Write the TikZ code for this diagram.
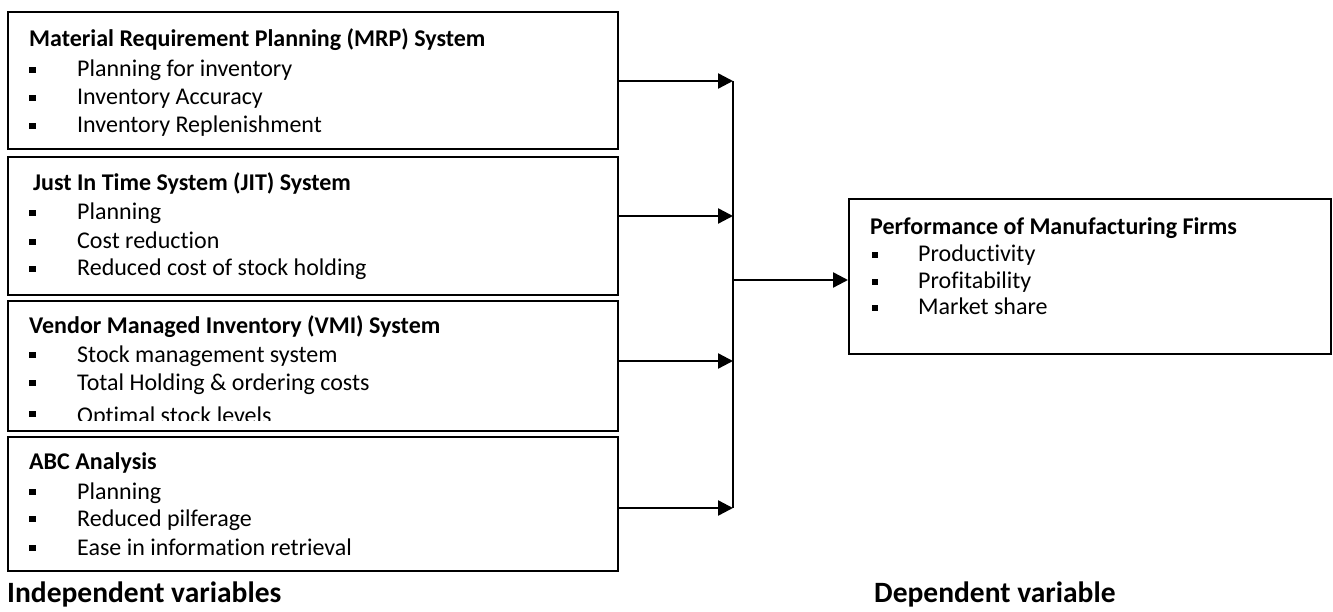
\documentclass[tikz,border=0pt]{standalone}
\usepackage{fontspec}
\setmainfont{Carlito}[Ligatures=NoCommon]
\usetikzlibrary{arrows.meta}
\tikzset{
  box/.style={draw=black, line width=1.6pt, anchor=north west, inner sep=0pt},
  ttl/.style={anchor=base west, inner sep=0pt, font=\fontsize{24}{28}\selectfont\bfseries},
  itm/.style={anchor=base west, inner sep=0pt, font=\fontsize{24}{28}\selectfont},
  bul/.style={fill=black, inner sep=0pt, minimum size=6.5pt},
  lbl/.style={anchor=base west, inner sep=0pt, font=\fontsize{29.5}{34}\selectfont\bfseries},
  arr/.style={line width=2.4pt, -{Triangle[length=15pt,width=15pt]}},
  bus/.style={line width=1.8pt}
}
\begin{document}
\begin{tikzpicture}[x=1pt,y=-1pt]
\useasboundingbox (0,0) rectangle (1333,612);
% boxes
\node[box, minimum width=610pt, minimum height=137pt] (m1) at (7,11) {};
\node[box, minimum width=610pt, minimum height=138pt] (m2) at (7,156) {};
\node[box, minimum width=610pt, minimum height=130pt] (m3) at (7,300) {};
\node[box, minimum width=610pt, minimum height=134pt] (m4) at (7,436) {};
\node[box, minimum width=482pt, minimum height=155pt] (perf) at (848,198) {};
% box 1
\node[ttl] (t1) at (29,47) {Material Requirement Planning (MRP) System};
\node[bul] (b11) at (32.5,70) {}; \node[itm] (i11) at (77,77) {Planning for inventory};
\node[bul] (b12) at (32.5,98) {}; \node[itm] (i12) at (77,105) {Inventory Accuracy};
\node[bul] (b13) at (32.5,126) {}; \node[itm] (i13) at (77,133) {Inventory Replenishment};
% box 2
\node[ttl] (t2) at (33,191) {Just In Time System (JIT) System};
\node[bul] (b21) at (32.5,213) {}; \node[itm] (i21) at (77,220) {Planning};
\node[bul] (b22) at (32.5,242) {}; \node[itm] (i22) at (77,249) {Cost reduction};
\node[bul] (b23) at (32.5,269) {}; \node[itm] (i23) at (77,276) {Reduced cost of stock holding};
% box 3
\node[ttl] (t3) at (29,334) {Vendor Managed Inventory (VMI) System};
\node[bul] (b31) at (32.5,355) {}; \node[itm] (i31) at (77,362) {Stock management system};
\node[bul] (b32) at (32.5,383) {}; \node[itm] (i32) at (77,390) {Total Holding \& ordering costs};
\node[bul] (b33) at (32.5,414) {};
\begin{scope}
\clip (7,300) rectangle (617,420);
\node[itm] (i33) at (77,423) {Optimal stock levels};
\end{scope}
% box 4
\node[ttl] (t4) at (29,469) {ABC Analysis};
\node[bul] (b41) at (32.5,492) {}; \node[itm] (i41) at (77,499) {Planning};
\node[bul] (b42) at (32.5,519) {}; \node[itm] (i42) at (77,526) {Reduced pilferage};
\node[bul] (b43) at (32.5,548) {}; \node[itm] (i43) at (77,555) {Ease in information retrieval};
% right box
\node[ttl] (tp) at (870,235) {Performance of Manufacturing Firms};
\node[bul] (bp1) at (875,255) {}; \node[itm] (ip1) at (918,262) {Productivity};
\node[bul] (bp2) at (875,282) {}; \node[itm] (ip2) at (918,289) {Profitability};
\node[bul] (bp3) at (875,308) {}; \node[itm] (ip3) at (918,315) {Market share};
% labels
\node[lbl] (li) at (7,602) {Independent variables};
\node[lbl] (ld) at (874,602) {Dependent variable};
% connectors
\coordinate (c1) at (733,81);
\coordinate (c2) at (733,216);
\coordinate (c3) at (733,361);
\coordinate (c4) at (733,508);
\coordinate (cm) at (733,280);
\draw[bus] (c1) -- (c4);
\draw[arr] (c1 -| m1.east) -- (c1);
\draw[arr] (c2 -| m2.east) -- (c2);
\draw[arr] (c3 -| m3.east) -- (c3);
\draw[arr] (c4 -| m4.east) -- (c4);
\draw[arr] (cm) -- (cm -| perf.west);
\end{tikzpicture}
\end{document}
